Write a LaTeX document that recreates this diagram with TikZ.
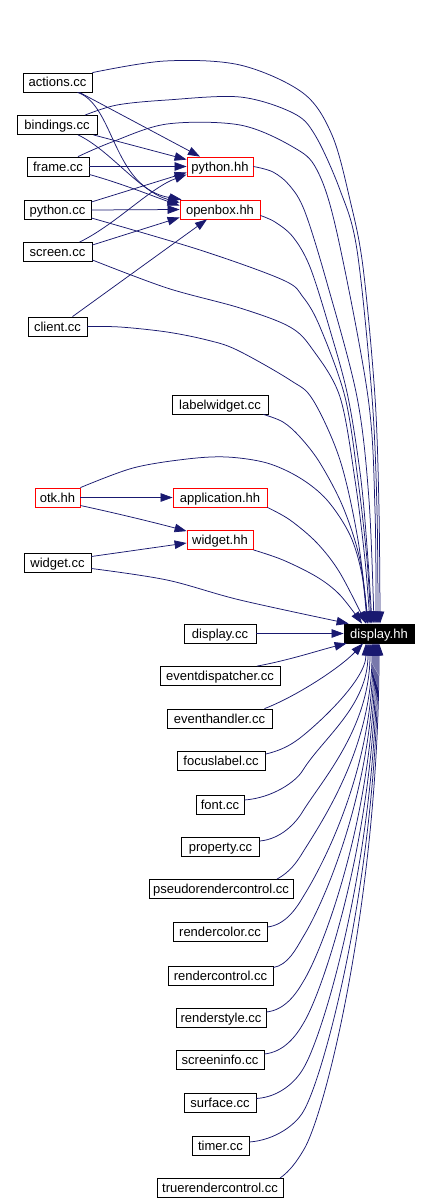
\documentclass[tikz,border=0pt]{standalone}
\usepackage{fontspec}
\setmainfont{Liberation Sans}
\usetikzlibrary{arrows.meta}
\definecolor{edgec}{HTML}{191970}
\begin{document}
\begin{tikzpicture}[x=1pt,y=-1pt,
  box/.style={draw=black, line width=0.8pt, fill=white, minimum height=19pt, inner sep=0pt, text height=10pt, text depth=1pt, font=\fontsize{13}{15}\selectfont},
  redbox/.style={box, draw=red},
  hl/.style={box, fill=black, text=white},
  edge/.style={draw=edgec, line width=0.75pt, -{Triangle[length=12pt,width=8.5pt]}},
]
\useasboundingbox (0,0) rectangle (430,1204);
\fill[white] (0,0) rectangle (430,1204);

% nodes
\node[box, minimum width=69pt] (act) at (57.5,82.5) {actions.cc};
\node[box, minimum width=80pt] (bin) at (57,125) {bindings.cc};
\node[box, minimum width=62pt] (fra) at (58,166.5) {frame.cc};
\node[box, minimum width=67pt] (pcc) at (57.5,210) {python.cc};
\node[box, minimum width=69pt] (scr) at (57.5,252) {screen.cc};
\node[box, minimum width=59pt] (cli) at (57.5,326.5) {client.cc};
\node[redbox, minimum width=66pt] (phh) at (220,166.5) {python.hh};
\node[redbox, minimum width=80pt] (ohh) at (220,209.5) {openbox.hh};
\node[box, minimum width=96pt] (lab) at (220,404.5) {labelwidget.cc};
\node[redbox, minimum width=45pt] (otk) at (57.5,497.5) {otk.hh};
\node[redbox, minimum width=94pt] (app) at (220,497.5) {application.hh};
\node[redbox, minimum width=66pt] (whh) at (220,540) {widget.hh};
\node[box, minimum width=67pt] (wcc) at (57.5,562.5) {widget.cc};
\node[hl, minimum width=70pt] (dhh) at (379,633.5) {display.hh};
\node[box, minimum width=72pt] (dcc) at (220,633.5) {display.cc};
\node[box, minimum width=120pt] (evd) at (220,676) {eventdispatcher.cc};
\node[box, minimum width=105pt] (evh) at (219.5,718.5) {eventhandler.cc};
\node[box, minimum width=88pt] (foc) at (221,761) {focuslabel.cc};
\node[box, minimum width=48pt] (fon) at (220,805) {font.cc};
\node[box, minimum width=78pt] (pro) at (220.5,847) {property.cc};
\node[box, minimum width=144pt] (pse) at (221,889) {pseudorendercontrol.cc};
\node[box, minimum width=94pt] (rco) at (220,932) {rendercolor.cc};
\node[box, minimum width=105pt] (rct) at (220.5,975.5) {rendercontrol.cc};
\node[box, minimum width=90pt] (rst) at (221,1018) {renderstyle.cc};
\node[box, minimum width=88pt] (sci) at (220,1060) {screeninfo.cc};
\node[box, minimum width=72pt] (sur) at (220,1102.5) {surface.cc};
\node[box, minimum width=57pt] (tim) at (220.5,1146) {timer.cc};
\node[box, minimum width=126pt] (tru) at (220,1188) {truerendercontrol.cc};

% end points on display.hh
\coordinate (tact) at ([xshift=1pt]dhh.north);
\coordinate (tbin) at ([xshift=-1pt]dhh.north);
\coordinate (tfra) at ([xshift=-3pt]dhh.north);
\coordinate (tphh) at ([xshift=-5pt]dhh.north);
\coordinate (tohh) at ([xshift=-7pt]dhh.north);
\coordinate (tpcc) at ([xshift=-8pt]dhh.north);
\coordinate (tscr) at ([xshift=-9pt]dhh.north);
\coordinate (tcli) at ([xshift=-11pt]dhh.north);
\coordinate (tlab) at ([xshift=-11pt]dhh.north);
\coordinate (totk) at ([xshift=-12pt]dhh.north);
\coordinate (tapp) at ([xshift=-13pt]dhh.north);
\coordinate (twhh) at ([xshift=-17pt]dhh.north);
\coordinate (twcc) at ([xshift=5pt]dhh.north west);

% start points
\coordinate (sact) at (act.north east);
\coordinate (sbin) at ([xshift=28pt]bin.north);
\coordinate (sfra) at ([xshift=20pt]fra.north);
\coordinate (sphh) at (phh.east);
\coordinate (sohh) at ([yshift=-6pt]ohh.east);
\coordinate (spcc) at ([yshift=-8pt]pcc.east);
\coordinate (sscr) at ([yshift=-8pt]scr.east);
\coordinate (scli) at (cli.east);
\coordinate (slab) at ([xshift=-5pt]lab.south east);
\coordinate (sotk) at (otk.north east);
\coordinate (sapp) at (app.south east);
\coordinate (swhh) at (whh.south east);
\coordinate (swcc) at ([yshift=-6pt]wcc.east);

% edges into python.hh / openbox.hh
\draw[edge] ([xshift=22pt]act.south) -- ([xshift=-20pt]phh.north);
\draw[edge] ([xshift=20pt]act.south) .. controls (115,105) and (112,188) .. ([xshift=2pt]ohh.north west);
\draw[edge] ([xshift=-4pt]bin.south east) -- ([yshift=-3pt]phh.north west);
\draw[edge] ([xshift=21pt]bin.south) .. controls (110,150) and (140,192) .. ([yshift=-3pt]ohh.north west);
\draw[edge] (fra.east) -- (phh.west);
\draw[edge] ([yshift=-8pt]fra.east) .. controls (120,183) and (150,195) .. ([yshift=-6pt]ohh.north west);
\draw[edge] ([yshift=8pt]pcc.east) -- ([yshift=-6pt]phh.west);
\draw[edge] (pcc.east) -- (ohh.west);
\draw[edge] ([xshift=22pt]scr.north) .. controls (115,225) and (150,188) .. ([yshift=-8pt]phh.west);
\draw[edge] ([yshift=7pt]scr.east) -- ([yshift=-8pt]ohh.west);
\draw[edge] ([xshift=15pt]cli.north) -- ([xshift=-13pt]ohh.south);

% otk edges
\draw[edge] (otk.east) -- (app.west);
\draw[edge] ([yshift=-8pt]otk.east) .. controls (120,514) and (160,524) .. ([yshift=-1pt]whh.north west);
\draw[edge] ([yshift=6pt]wcc.east) -- ([yshift=-3pt]whh.west);

% long curves into display.hh (from above)
\draw[edge] plot[smooth,tension=0.55] coordinates {(sact) (165,61) (240,65) (303,93) (332,135) (350,200) (363,267) (375,397) (379,510) (tact)};
\draw[edge] plot[smooth,tension=0.55] coordinates {(sbin) (117,105) (167,100) (240,97) (293,113) (315,135) (340,190) (357,250) (372,397) (377,510) (tbin)};
\draw[edge] plot[smooth,tension=0.55] coordinates {(sfra) (112,142) (167,124) (240,125) (293,147) (317,170) (337,233) (368,397) (375,510) (tfra)};
\draw[edge] plot[smooth,tension=0.55] coordinates {(sphh) (273,172) (290,186) (305,212) (327,283) (357,397) (369,500) (tphh)};
\draw[edge] plot[smooth,tension=0.55] coordinates {(sohh) (275,222) (293,237) (310,267) (330,330) (348,397) (361,480) (368,560) (tohh)};
\draw[edge] plot[smooth,tension=0.55] coordinates {(spcc) (200,250) (283,280) (303,297) (320,327) (345,397) (358,480) (367,560) (tpcc)};
\draw[edge] plot[smooth,tension=0.55] coordinates {(sscr) (167,288) (240,308) (290,327) (313,350) (340,397) (355,480) (365,560) (tscr)};
\draw[edge] plot[smooth,tension=0.55] coordinates {(scli) (120,327) (167,332) (207,340) (237,350) (290,380) (313,400) (340,460) (358,540) (tcli)};
\draw[edge] plot[smooth,tension=0.55] coordinates {(slab) (283,422) (300,437) (320,463) (343,507) (360,560) (tlab)};
\draw[edge] plot[smooth,tension=0.55] coordinates {(sotk) (133,468) (187,459) (227,457) (267,463) (300,478) (327,500) (350,535) (362,575) (totk)};
\draw[edge] plot[smooth,tension=0.55] coordinates {(sapp) (290,520) (317,543) (340,573) (tapp)};
\draw[edge] plot[smooth,tension=0.55] coordinates {(swhh) (283,560) (317,577) (340,595) (twhh)};
\draw[edge] plot[smooth,tension=0.55] coordinates {(swcc) (167,580) (240,600) (twcc)};

% direct
\draw[edge] (dcc.east) -- (dhh.west);

% from below
\draw[edge] ([xshift=37pt]evd.north) .. controls (290,660) and (320,650) .. ([xshift=3pt]dhh.south west);
\draw[edge] ([xshift=45pt]evh.north) .. controls (295,697) and (340,668) .. ([xshift=-16pt]dhh.south);
\draw[edge] ([yshift=-3pt]foc.north east) .. controls (283,750) and (292,744) .. (300,738) .. controls (318,724) and (366,680) .. ([xshift=-13pt]dhh.south);
\draw[edge] ([yshift=5pt]fon.east) .. controls (272,798) and (296,782) .. (303,770) .. controls (323,738) and (368,706) .. ([xshift=-11pt]dhh.south);
\draw[edge] ([yshift=6pt]pro.east) .. controls (281,839) and (296,823) .. (303,811) .. controls (323,779) and (370,727) .. ([xshift=-9pt]dhh.south);
\draw[edge] ([xshift=56pt]pse.north) .. controls (290,872) and (297,862) .. (303,852) .. controls (323,820) and (372,747) .. ([xshift=-7pt]dhh.south);
\draw[edge] ([yshift=5pt]rco.east) .. controls (285,925) and (296,909) .. (303,897) .. controls (323,865) and (373,770) .. ([xshift=-6pt]dhh.south);
\draw[edge] ([yshift=8pt]rct.east) .. controls (288,965) and (296,949) .. (303,937) .. controls (323,905) and (374,790) .. ([xshift=-5pt]dhh.south);
\draw[edge] ([yshift=6pt]rst.east) .. controls (285,1010) and (296,994) .. (303,982) .. controls (323,950) and (375,812) .. ([xshift=-4pt]dhh.south);
\draw[edge] ([yshift=6pt]sci.east) .. controls (284,1052) and (296,1036) .. (303,1024) .. controls (323,992) and (376,833) .. ([xshift=-3pt]dhh.south);
\draw[edge] ([yshift=4pt]sur.east) .. controls (280,1097) and (296,1081) .. (303,1069) .. controls (323,1037) and (377,856) .. ([xshift=-2pt]dhh.south);
\draw[edge] ([yshift=4pt]tim.east) .. controls (276,1140) and (296,1124) .. (303,1112) .. controls (323,1080) and (378,877) .. ([xshift=-1pt]dhh.south);
\draw[edge] ([xshift=60pt]tru.north) .. controls (290,1171) and (297,1161) .. (303,1151) .. controls (325,1117) and (379,897) .. (dhh.south);
\end{tikzpicture}
\end{document}
